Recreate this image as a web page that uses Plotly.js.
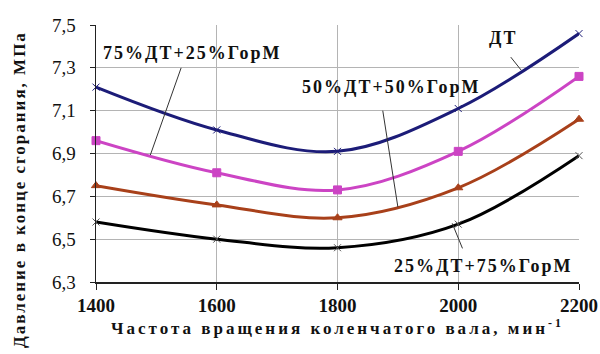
<!DOCTYPE html>
<html><head><meta charset="utf-8">
<script src="https://cdn.plot.ly/plotly-3.0.1.min.js"></script>
<style>
body{margin:0;background:#fff}#c{width:600px;height:354px}
#c .annotation-text{letter-spacing:2px}
#c .g-xtitle text{letter-spacing:3px}
</style>
</head><body><div id="c"></div>
<script>
const rpm = [1400, 1600, 1800, 2000, 2200];
const dt = [7.21, 7.01, 6.91, 7.11, 7.46];
const dt75 = [6.96, 6.81, 6.73, 6.91, 7.26];
const dt50 = [6.75, 6.66, 6.60, 6.74, 7.06];
const dt25 = [6.58, 6.50, 6.46, 6.57, 6.89];
const labels = ['ДТ', '75%ДТ+25%ГорМ', '50%ДТ+50%ГорМ', '25%ДТ+75%ГорМ'];
const xTitle = 'Частота вращения коленчатого вала, мин<sup>-1</sup>';
const yTitle = 'Давление в конце сгорания, МПа';

const SERIF = 'Liberation Serif';
function tr(y, color, sym, mcolor, mline, msize) {
  return {x: rpm, y: y, type: 'scatter', mode: 'lines+markers',
    line: {color: color, width: 3, shape: 'spline', smoothing: 1},
    marker: {symbol: sym, size: msize, color: mcolor, line: {color: mline, width: 1}},
    showlegend: false, cliponaxis: false};
}
const data = [
  tr(dt, '#1c1c78', 'x-thin', '#1c1c78', '#1c1c78', 7),
  tr(dt75, '#cc44c4', 'square', '#cc44c4', '#cc44c4', 8),
  tr(dt50, '#a8401a', 'triangle-up', '#a8401a', '#a8401a', 8),
  tr(dt25, '#000000', 'x-thin', '#ffffff', '#555555', 7)
];
const lineStyle = {color: '#333', width: 1};
const shapes = [
  {type: 'line', xref: 'x', yref: 'y', x0: 1541, y0: 7.30, x1: 1490, y1: 6.893, line: lineStyle},
  {type: 'line', xref: 'x', yref: 'y', x0: 2087, y0: 7.35, x1: 2104, y1: 7.29, line: lineStyle},
  {type: 'line', xref: 'x', yref: 'y', x0: 1875, y0: 7.10, x1: 1900, y1: 6.65, line: lineStyle},
  {type: 'line', xref: 'x', yref: 'y', x0: 1990, y0: 6.574, x1: 2007, y1: 6.457, line: lineStyle}
];
const afont = {family: SERIF, size: 18, color: '#111', weight: 'bold'};
const annotations = [
  {text: labels[0], x: 2074, y: 7.44, xref: 'x', yref: 'y', showarrow: false, font: afont},
  {text: labels[1], x: 1559, y: 7.37, xref: 'x', yref: 'y', showarrow: false, font: afont},
  {text: labels[2], x: 1890, y: 7.21, xref: 'x', yref: 'y', showarrow: false, font: afont},
  {text: labels[3], x: 2041, y: 6.375, xref: 'x', yref: 'y', showarrow: false, font: afont},
  {text: yTitle, textangle: -90, x: 0, y: 0.358, xref: 'paper', yref: 'paper', xshift: -76,
    xanchor: 'center', yanchor: 'middle', showarrow: false, font: {family: SERIF, size: 17, color: '#111', weight: 'bold'}}
];
const layout = {
  width: 600, height: 354,
  margin: {l: 96, r: 21, t: 25, b: 72},
  paper_bgcolor: '#fff', plot_bgcolor: '#fff',
  separators: ',.',
  xaxis: {range: [1400, 2200], tickvals: rpm,
    showgrid: true, gridcolor: '#b4b4b4', gridwidth: 1,
    showline: true, linecolor: '#222', linewidth: 1.5,
    ticks: 'outside', ticklen: 6, tickcolor: '#222',
    tickfont: {family: SERIF, size: 19, color: '#111', weight: 'bold'},
    title: {text: xTitle, font: {family: SERIF, size: 17, color: '#111', weight: 'bold'}, standoff: 4},
    zeroline: false},
  yaxis: {range: [6.3, 7.5], dtick: 0.2, tick0: 6.3, tickformat: '.1f',
    showgrid: true, gridcolor: '#b4b4b4', gridwidth: 1,
    showline: true, linecolor: '#222', linewidth: 1.5,
    ticks: 'outside', ticklen: 5, tickcolor: '#222', ticklabelstandoff: 10,
    tickfont: {family: SERIF, size: 19, color: '#111'},
    zeroline: false},
  shapes: shapes,
  annotations: annotations
};
Plotly.newPlot('c', data, layout, {displayModeBar: false, staticPlot: true});
</script></body></html>
